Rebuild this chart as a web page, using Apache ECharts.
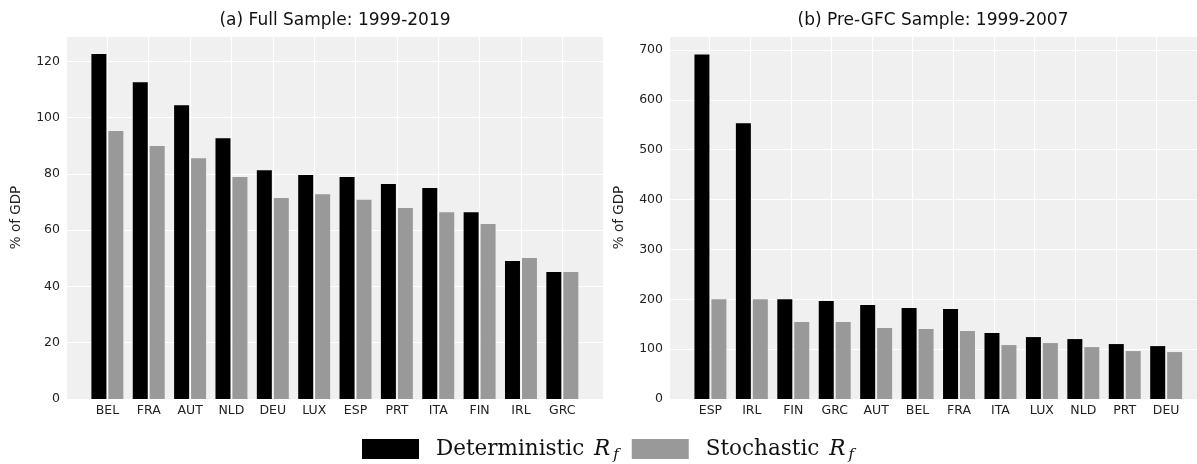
<!DOCTYPE html>
<html>
<head>
<meta charset="utf-8">
<script src="https://cdn.jsdelivr.net/npm/echarts@6/dist/echarts.min.js"></script>
<style>
  html, body { margin: 0; padding: 0; background: #fff; }
  #chart { width: 1197px; height: 464px; }
</style>
</head>
<body>
<div id="chart"></div>
<script>
// (a) full sample 1999-2019
var catsFull = ['BEL', 'FRA', 'AUT', 'NLD', 'DEU', 'LUX', 'ESP', 'PRT', 'ITA', 'FIN', 'IRL', 'GRC'];
var detFull = [122.6, 112.6, 104.4, 92.7, 81.3, 79.6, 78.9, 76.4, 75.0, 66.4, 49.0, 45.1];
var stoFull = [95.2, 89.9, 85.6, 78.9, 71.4, 72.8, 70.8, 67.9, 66.4, 62.2, 50.1, 45.1];

// (b) pre-GFC sample 1999-2007
var catsPre = ['ESP', 'IRL', 'FIN', 'GRC', 'AUT', 'BEL', 'FRA', 'ITA', 'LUX', 'NLD', 'PRT', 'DEU'];
var detPre = [691, 553, 200.3, 196.3, 188.3, 182.3, 180.3, 132.2, 124.2, 120.2, 110.2, 106.1];
var stoPre = [200.3, 200.3, 154.2, 154.2, 142.2, 140.2, 136.2, 108.2, 112.2, 104.1, 96.1, 94.1];

var titles = ['(a) Full Sample: 1999-2019', '(b) Pre-GFC Sample: 1999-2007'];
var yName = '% of GDP';

var chart = echarts.init(document.getElementById('chart'));

var tickColor = '#222';
var bgGray = '#f0f0f0';
var plotTop = 36, plotH = 363;

function bgX(gi) {
    return {
        gridIndex: gi, type: 'value', min: -1, max: 12, interval: 1,
        axisLine: {show: false}, axisTick: {show: false}, axisLabel: {show: false},
        splitLine: {show: true, lineStyle: {color: '#fff', width: 1.2}}
    };
}
function bgY(gi, max, interval) {
    return {
        gridIndex: gi, type: 'value', min: 0, max: max, interval: interval,
        name: yName, nameLocation: 'middle', nameGap: 43, nameRotate: 90,
        nameTextStyle: {fontFamily: 'DejaVu Sans', fontSize: 13.5, color: tickColor},
        axisLine: {show: false}, axisTick: {show: false},
        axisLabel: {fontFamily: 'DejaVu Sans', fontSize: 12.5, color: tickColor, margin: 6, showMaxLabel: false},
        splitLine: {show: true, lineStyle: {color: '#fff', width: 1.2}}
    };
}
function barX(gi, cats) {
    return {
        gridIndex: gi, type: 'category', data: cats,
        axisLine: {show: false}, axisTick: {show: false},
        axisLabel: {fontFamily: 'DejaVu Sans', fontSize: 12.5, color: tickColor, margin: 5, interval: 0},
        splitLine: {show: false}
    };
}
function barY(gi, max) {
    return {gridIndex: gi, type: 'value', min: 0, max: max, show: false, splitLine: {show: false}};
}
function bar(name, xi, data, color) {
    return {
        name: name, type: 'bar', xAxisIndex: xi, yAxisIndex: xi, data: data,
        barWidth: 15, barGap: '13%',
        itemStyle: {color: color},
        emphasis: {disabled: true}
    };
}

var option = {
    backgroundColor: '#fff',
    animation: false,
    grid: [
        {left: 66, top: plotTop, width: 537.7, height: plotH, show: true, backgroundColor: bgGray, borderWidth: 0},
        {left: 86.7, top: plotTop, width: 496.3, height: plotH},
        {left: 669, top: plotTop, width: 538.6, height: plotH, show: true, backgroundColor: bgGray, borderWidth: 0},
        {left: 689.7, top: plotTop, width: 497.2, height: plotH}
    ],
    xAxis: [bgX(0), barX(1, catsFull), bgX(2), barX(3, catsPre)],
    yAxis: [bgY(0, 129, 20), barY(1, 129), bgY(2, 728, 100), barY(3, 728)],
    legend: {
        left: 362, top: 438, padding: 0,
        itemWidth: 57, itemHeight: 20, itemGap: 13,
        icon: 'rect',
        data: ['Deterministic', 'Stochastic'],
        formatter: function (n) { return n + ' {i|R}{s|f}'; },
        textStyle: {
            fontFamily: 'DejaVu Serif', fontSize: 21.5, color: '#111', padding: [0, 0, 0, 12],
            rich: {
                i: {fontFamily: 'DejaVu Serif', fontStyle: 'italic', fontSize: 21.5, color: '#111', padding: [0, 0, 0, 3]},
                s: {fontFamily: 'DejaVu Serif', fontStyle: 'italic', fontSize: 15, color: '#111', padding: [12, 6, 0, 3]}
            }
        }
    },
    graphic: [
        {type: 'text', x: 335, y: 12, style: {text: titles[0], textAlign: 'center', font: '17px "DejaVu Sans"', fill: '#111'}},
        {type: 'text', x: 933, y: 12, style: {text: titles[1], textAlign: 'center', font: '17px "DejaVu Sans"', fill: '#111'}}
    ],
    series: [
        bar('Deterministic', 1, detFull, '#000'),
        bar('Stochastic', 1, stoFull, '#999999'),
        bar('Deterministic', 3, detPre, '#000'),
        bar('Stochastic', 3, stoPre, '#999999')
    ]
};

chart.setOption(option);
</script>
</body>
</html>
